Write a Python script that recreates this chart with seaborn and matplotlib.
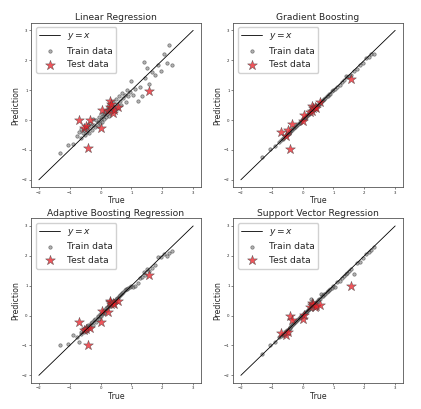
import numpy as np
import pandas as pd
import matplotlib
matplotlib.use("Agg")
import matplotlib.pyplot as plt
import seaborn as sns

# true target values
train_true = [
	-1.33, -1.05, -0.90, -0.75, -0.70, -0.65, -0.62, -0.58, -0.55, -0.50,
	-0.48, -0.45, -0.42, -0.40, -0.36, -0.33, -0.30, -0.27, -0.24, -0.20,
	-0.17, -0.14, -0.10, -0.07, -0.04, -0.02, 0.00, 0.03, 0.06, 0.08,
	0.10, 0.12, 0.15, 0.17, 0.20, 0.22, 0.25, 0.28, 0.30, 0.33,
	0.36, 0.40, 0.43, 0.46, 0.50, 0.53, 0.56, 0.60, 0.63, 0.66,
	0.70, 0.74, 0.78, 0.82, 0.86, 0.90, 0.95, 1.00, 1.05, 1.12,
	1.20, 1.28, 1.35, 1.40, 1.45, 1.50, 1.58, 1.65, 1.75, 1.85,
	1.95, 2.05, 2.15, 2.22, 2.30,
]
test_true = [-0.70, -0.55, -0.47, -0.40, -0.33, 0.00, 0.03, 0.25, 0.30, 0.32, 0.35, 0.40, 0.45, 0.55, 1.58]

# predictions per model
lr_train = [
	-1.10, -0.85, -0.80, -0.55, -0.40, -0.60, -0.30, -0.45, -0.35, -0.50,
	-0.25, -0.40, -0.15, -0.30, -0.45, -0.10, -0.20, -0.35, 0.05, -0.15,
	-0.25, 0.00, -0.05, -0.20, 0.10, -0.10, 0.05, 0.20, -0.05, 0.15,
	0.25, 0.05, 0.30, 0.10, 0.35, 0.20, 0.45, 0.15, 0.40, 0.55,
	0.30, 0.60, 0.45, 0.35, 0.70, 0.55, 0.40, 0.80, 0.65, 0.50,
	0.90, 0.75, 0.85, 0.60, 1.00, 0.80, 0.95, 1.30, 0.85, 1.05,
	0.65, 1.10, 0.80, 1.95, 1.40, 1.75, 1.20, 1.60, 1.50, 1.85,
	1.65, 2.20, 1.90, 2.50, 1.85,
]
gb_train = [
	-1.25, -0.98, -0.88, -0.72, -0.66, -0.62, -0.60, -0.55, -0.52, -0.50,
	-0.45, -0.44, -0.40, -0.38, -0.35, -0.32, -0.28, -0.26, -0.22, -0.20,
	-0.15, -0.13, -0.10, -0.06, -0.05, -0.01, 0.02, 0.04, 0.07, 0.08,
	0.12, 0.11, 0.16, 0.18, 0.20, 0.23, 0.24, 0.30, 0.29, 0.35,
	0.36, 0.42, 0.41, 0.48, 0.50, 0.52, 0.58, 0.60, 0.62, 0.68,
	0.70, 0.73, 0.80, 0.80, 0.88, 0.88, 0.96, 1.00, 1.03, 1.10,
	1.18, 1.27, 1.33, 1.48, 1.45, 1.48, 1.52, 1.65, 1.70, 1.85,
	1.92, 2.08, 2.12, 2.20, 2.22,
]
ada_train = [
	-1.00, -0.95, -0.65, -0.70, -0.89, -0.55, -0.60, -0.45, -0.55, -0.40,
	-0.50, -0.35, -0.45, -0.30, -0.35, -0.40, -0.25, -0.20, -0.30, -0.15,
	-0.10, -0.20, -0.05, 0.00, -0.10, 0.05, 0.00, 0.10, 0.05, 0.15,
	0.10, 0.20, 0.15, 0.25, 0.20, 0.30, 0.28, 0.35, 0.32, 0.40,
	0.38, 0.45, 0.48, 0.50, 0.55, 0.60, 0.58, 0.65, 0.70, 0.72,
	0.75, 0.80, 0.85, 0.90, 0.88, 0.92, 0.95, 0.98, 0.95, 1.00,
	1.10, 1.25, 1.30, 1.45, 1.35, 1.55, 1.50, 1.60, 1.70, 1.95,
	1.95, 2.05, 2.00, 2.10, 2.15,
]
svr_train = [
	-1.28, -1.00, -0.88, -0.73, -0.68, -0.64, -0.60, -0.57, -0.53, -0.49,
	-0.47, -0.44, -0.41, -0.39, -0.35, -0.32, -0.29, -0.26, -0.23, -0.19,
	-0.16, -0.13, -0.09, -0.06, -0.03, -0.01, 0.01, 0.04, 0.07, 0.09,
	0.11, 0.13, 0.16, 0.18, 0.21, 0.23, 0.26, 0.55, 0.31, 0.34,
	0.37, 0.41, 0.44, 0.47, 0.51, 0.54, 0.57, 0.72, 0.64, 0.66,
	0.71, 0.73, 0.79, 0.81, 0.87, 0.89, 0.94, 1.00, 0.96, 1.11,
	1.15, 1.27, 1.34, 1.40, 1.44, 1.49, 1.57, 1.38, 1.75, 1.78,
	1.94, 2.05, 2.14, 2.21, 2.28,
]

lr_test = [0.00, -0.27, -0.20, -0.95, 0.00, -0.27, 0.33, 0.30, 0.65, 0.45, 0.55, 0.25, 0.35, 0.45, 0.98]
gb_test = [-0.39, -0.55, -0.35, -0.98, -0.14, -0.03, 0.18, 0.27, 0.47, 0.30, 0.40, 0.45, 0.40, 0.60, 1.38]
ada_test = [-0.22, -0.47, -0.45, -1.00, -0.40, -0.22, 0.15, 0.12, 0.45, 0.48, 0.40, 0.42, 0.38, 0.48, 1.35]
svr_test = [-0.58, -0.65, -0.55, -0.02, -0.15, -0.10, 0.03, 0.30, 0.42, 0.35, 0.38, 0.30, 0.32, 0.35, 1.00]

titles = ["Linear Regression", "Gradient Boosting", "Adaptive Boosting Regression", "Support Vector Regression"]
train_preds = [lr_train, gb_train, ada_train, svr_train]
test_preds = [lr_test, gb_test, ada_test, svr_test]
line_x = [-2, 3]

sns.set_style("ticks")
plt.rcParams["font.family"] = ["DejaVu Sans"]

fig, axes = plt.subplots(2, 2, figsize=(4.21, 4.09), dpi=100)
fig.subplots_adjust(left=0.074, right=0.957, bottom=0.064, top=0.944, wspace=0.19, hspace=0.19)

for ax, title, tr, te in zip(axes.flatten(), titles, train_preds, test_preds):
	df_train = pd.DataFrame({"True": train_true, "Prediction": tr})
	df_test = pd.DataFrame({"True": test_true, "Prediction": te})

	sns.lineplot(x=line_x, y=line_x, color="black", linewidth=0.6, label="$y = x$", ax=ax)
	sns.scatterplot(data=df_train, x="True", y="Prediction", color="gray", edgecolor="#333333",
					linewidth=0.5, s=6, alpha=0.6, label="Train data", ax=ax)
	sns.scatterplot(data=df_test, x="True", y="Prediction", color="#ec1c24", edgecolor="#444444",
					linewidth=0.4, s=55, marker="*", alpha=0.75, label="Test data", ax=ax)

	ax.set_title(title, fontsize=6.6, pad=2)
	ax.set_xlabel("True", fontsize=5.6, labelpad=1)
	ax.set_ylabel("Prediction", fontsize=5.6, labelpad=1)
	ax.tick_params(labelsize=2.8, length=1.5, width=0.4, pad=1)
	for sp in ax.spines.values():
		sp.set_linewidth(0.6)
		sp.set_color("#555555")
	ax.legend(loc="upper left", fontsize=6.6, handlelength=2.3, borderpad=0.4,
			  labelspacing=0.5, handletextpad=0.7, framealpha=0.9)

fig.savefig("out.png", dpi=100)
